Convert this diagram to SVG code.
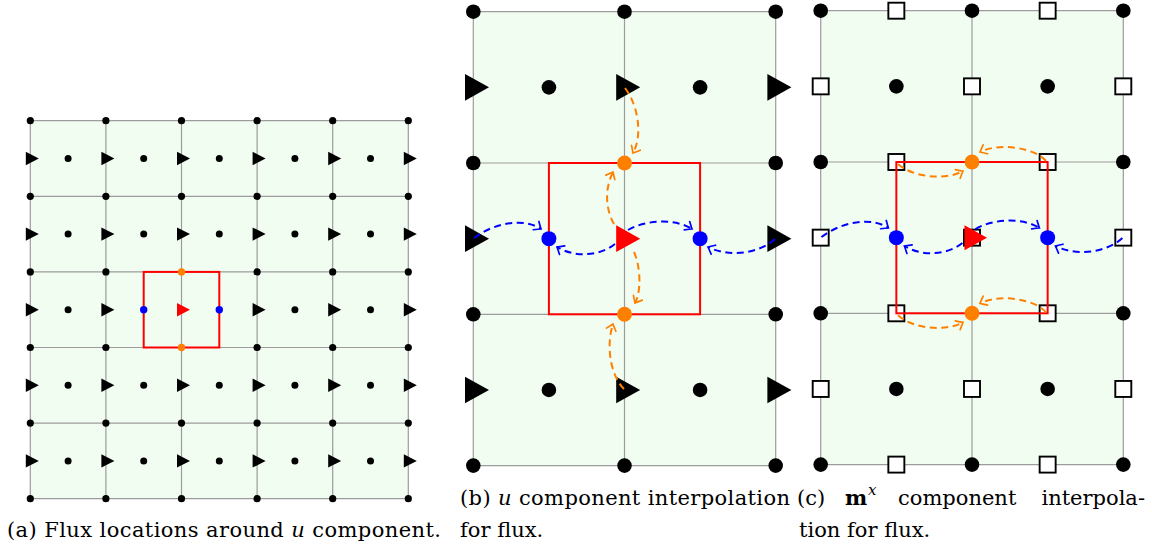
<svg xmlns="http://www.w3.org/2000/svg" xmlns:xlink="http://www.w3.org/1999/xlink" width="1152" height="548" viewBox="0 0 1152 548">
<style>
.bg{fill:#f2fdf2;stroke:none}
.grid{stroke:#9c9c9c;stroke-width:1.2;fill:none}
.blk{fill:#000}
.red{fill:#ff0000}
.blue{fill:#0000ff}
.orange{fill:#ff8000}
.box{fill:none;stroke:#ff0000;stroke-width:2}
.sq{fill:#fff;stroke:#000;stroke-width:1.9}
.db{fill:none;stroke:#0000ff;stroke-width:2;stroke-dasharray:7 4.5}
.do{fill:none;stroke:#ff8000;stroke-width:2;stroke-dasharray:7 4.5}
.cap{font-family:"DejaVu Serif","Liberation Serif",serif;font-size:21px;fill:#000}
</style>
<defs>
<path id="triA" d="M-4.5,-6.7 L8.5,0 L-4.5,6.7 Z"/>
<path id="triB" d="M-8.3,-13.3 L15.7,0 L-8.3,13.3 Z"/>
<rect id="sq" x="-8" y="-8" width="16" height="16"/>
<marker id="ab" markerUnits="userSpaceOnUse" markerWidth="14" markerHeight="14" refX="0" refY="0" viewBox="-8 -7 10 14" orient="auto" overflow="visible">
<path d="M-6,-5 Q-1.8,-1.4 0,0 Q-1.8,1.4 -6,5" fill="none" stroke="#0000ff" stroke-width="1.7" stroke-linecap="round"/>
</marker>
<marker id="ao" markerUnits="userSpaceOnUse" markerWidth="14" markerHeight="14" refX="0" refY="0" viewBox="-8 -7 10 14" orient="auto" overflow="visible">
<path d="M-6,-5 Q-1.8,-1.4 0,0 Q-1.8,1.4 -6,5" fill="none" stroke="#ff8000" stroke-width="1.7" stroke-linecap="round"/>
</marker>
</defs>

<!-- Panel (a) -->
<g id="panel-a">
<rect class="bg" x="30.3" y="120.7" width="378" height="378"/>
<g class="grid" id="grid-a">
<path d="M30.3,120.7H408.3M30.3,196.3H408.3M30.3,271.9H408.3M30.3,347.5H408.3M30.3,423.1H408.3M30.3,498.7H408.3"/>
<path d="M30.3,120.7V498.7M105.9,120.7V498.7M181.5,120.7V498.7M257.1,120.7V498.7M332.7,120.7V498.7M408.3,120.7V498.7"/>
</g>
<g id="a-vertices" class="blk">
<circle cx="30.3" cy="120.7" r="3.6"/><circle cx="105.9" cy="120.7" r="3.6"/><circle cx="181.5" cy="120.7" r="3.6"/><circle cx="257.1" cy="120.7" r="3.6"/><circle cx="332.7" cy="120.7" r="3.6"/><circle cx="408.3" cy="120.7" r="3.6"/>
<circle cx="30.3" cy="196.3" r="3.6"/><circle cx="105.9" cy="196.3" r="3.6"/><circle cx="181.5" cy="196.3" r="3.6"/><circle cx="257.1" cy="196.3" r="3.6"/><circle cx="332.7" cy="196.3" r="3.6"/><circle cx="408.3" cy="196.3" r="3.6"/>
<circle cx="30.3" cy="271.9" r="3.6"/><circle cx="105.9" cy="271.9" r="3.6"/><circle cx="257.1" cy="271.9" r="3.6"/><circle cx="332.7" cy="271.9" r="3.6"/><circle cx="408.3" cy="271.9" r="3.6"/>
<circle cx="30.3" cy="347.5" r="3.6"/><circle cx="105.9" cy="347.5" r="3.6"/><circle cx="257.1" cy="347.5" r="3.6"/><circle cx="332.7" cy="347.5" r="3.6"/><circle cx="408.3" cy="347.5" r="3.6"/>
<circle cx="30.3" cy="423.1" r="3.6"/><circle cx="105.9" cy="423.1" r="3.6"/><circle cx="181.5" cy="423.1" r="3.6"/><circle cx="257.1" cy="423.1" r="3.6"/><circle cx="332.7" cy="423.1" r="3.6"/><circle cx="408.3" cy="423.1" r="3.6"/>
<circle cx="30.3" cy="498.7" r="3.6"/><circle cx="105.9" cy="498.7" r="3.6"/><circle cx="181.5" cy="498.7" r="3.6"/><circle cx="257.1" cy="498.7" r="3.6"/><circle cx="332.7" cy="498.7" r="3.6"/><circle cx="408.3" cy="498.7" r="3.6"/>
</g>
<g id="a-centers" class="blk">
<circle cx="68.1" cy="158.5" r="3.5"/><circle cx="143.7" cy="158.5" r="3.5"/><circle cx="219.3" cy="158.5" r="3.5"/><circle cx="294.9" cy="158.5" r="3.5"/><circle cx="370.5" cy="158.5" r="3.5"/>
<circle cx="68.1" cy="234.1" r="3.5"/><circle cx="143.7" cy="234.1" r="3.5"/><circle cx="219.3" cy="234.1" r="3.5"/><circle cx="294.9" cy="234.1" r="3.5"/><circle cx="370.5" cy="234.1" r="3.5"/>
<circle cx="68.1" cy="309.7" r="3.5"/><circle cx="294.9" cy="309.7" r="3.5"/><circle cx="370.5" cy="309.7" r="3.5"/>
<circle cx="68.1" cy="385.3" r="3.5"/><circle cx="143.7" cy="385.3" r="3.5"/><circle cx="219.3" cy="385.3" r="3.5"/><circle cx="294.9" cy="385.3" r="3.5"/><circle cx="370.5" cy="385.3" r="3.5"/>
<circle cx="68.1" cy="460.9" r="3.5"/><circle cx="143.7" cy="460.9" r="3.5"/><circle cx="219.3" cy="460.9" r="3.5"/><circle cx="294.9" cy="460.9" r="3.5"/><circle cx="370.5" cy="460.9" r="3.5"/>
</g>
<g id="a-triangles" class="blk">
<use href="#triA" x="30.3" y="158.5"/><use href="#triA" x="105.9" y="158.5"/><use href="#triA" x="181.5" y="158.5"/><use href="#triA" x="257.1" y="158.5"/><use href="#triA" x="332.7" y="158.5"/><use href="#triA" x="408.3" y="158.5"/>
<use href="#triA" x="30.3" y="234.1"/><use href="#triA" x="105.9" y="234.1"/><use href="#triA" x="181.5" y="234.1"/><use href="#triA" x="257.1" y="234.1"/><use href="#triA" x="332.7" y="234.1"/><use href="#triA" x="408.3" y="234.1"/>
<use href="#triA" x="30.3" y="309.7"/><use href="#triA" x="105.9" y="309.7"/><use href="#triA" x="257.1" y="309.7"/><use href="#triA" x="332.7" y="309.7"/><use href="#triA" x="408.3" y="309.7"/>
<use href="#triA" x="30.3" y="385.3"/><use href="#triA" x="105.9" y="385.3"/><use href="#triA" x="181.5" y="385.3"/><use href="#triA" x="257.1" y="385.3"/><use href="#triA" x="332.7" y="385.3"/><use href="#triA" x="408.3" y="385.3"/>
<use href="#triA" x="30.3" y="460.9"/><use href="#triA" x="105.9" y="460.9"/><use href="#triA" x="181.5" y="460.9"/><use href="#triA" x="257.1" y="460.9"/><use href="#triA" x="332.7" y="460.9"/><use href="#triA" x="408.3" y="460.9"/>
</g>
<rect id="a-box" class="box" x="143.7" y="271.9" width="75.6" height="75.6"/>
<g id="a-u"><use href="#triA" x="181.5" y="309.7" class="red"/></g>
<g id="a-flux-left"><circle class="blue" cx="143.7" cy="309.7" r="3.7"/></g>
<g id="a-flux-right"><circle class="blue" cx="219.3" cy="309.7" r="3.7"/></g>
<g id="a-flux-top"><circle class="orange" cx="181.5" cy="271.9" r="3.7"/></g>
<g id="a-flux-bottom"><circle class="orange" cx="181.5" cy="347.5" r="3.7"/></g>
</g>

<!-- Panel (b) -->
<g id="panel-b">
<rect class="bg" x="473.3" y="11.7" width="302.4" height="453.9"/>
<g class="grid" id="grid-b">
<path d="M473.3,11.7H775.7M473.3,163H775.7M473.3,314.3H775.7M473.3,465.6H775.7"/>
<path d="M473.3,11.7V465.6M624.5,11.7V465.6M775.7,11.7V465.6"/>
</g>
<g id="b-vertices" class="blk">
<circle cx="473.3" cy="11.7" r="7.3"/><circle cx="624.5" cy="11.7" r="7.3"/><circle cx="775.7" cy="11.7" r="7.3"/>
<circle cx="473.3" cy="163" r="7.3"/><circle cx="775.7" cy="163" r="7.3"/>
<circle cx="473.3" cy="314.3" r="7.3"/><circle cx="775.7" cy="314.3" r="7.3"/>
<circle cx="473.3" cy="465.6" r="7.3"/><circle cx="624.5" cy="465.6" r="7.3"/><circle cx="775.7" cy="465.6" r="7.3"/>
</g>
<g id="b-centers" class="blk">
<circle cx="548.9" cy="87.35" r="7.3"/><circle cx="700.1" cy="87.35" r="7.3"/>
<circle cx="548.9" cy="389.95" r="7.3"/><circle cx="700.1" cy="389.95" r="7.3"/>
</g>
<g id="b-triangles" class="blk">
<use href="#triB" x="473.3" y="87.35"/><use href="#triB" x="624.5" y="87.35"/><use href="#triB" x="775.7" y="87.35"/>
<use href="#triB" x="473.3" y="238.65"/><use href="#triB" x="775.7" y="238.65"/>
<use href="#triB" x="473.3" y="389.95"/><use href="#triB" x="624.5" y="389.95"/><use href="#triB" x="775.7" y="389.95"/>
</g>
<rect id="b-box" class="box" x="548.9" y="163" width="151.2" height="151.3"/>
</g>

<!-- Panel (c) -->
<g id="panel-c">
<rect class="bg" x="820.7" y="10.7" width="302.6" height="453.9"/>
<g class="grid" id="grid-c">
<path d="M820.7,10.7H1123.3M820.7,162H1123.3M820.7,313.3H1123.3M820.7,464.6H1123.3"/>
<path d="M820.7,10.7V464.6M972,10.7V464.6M1123.3,10.7V464.6"/>
</g>
<g id="c-vertices" class="blk">
<circle cx="820.7" cy="10.7" r="7.3"/><circle cx="972" cy="10.7" r="7.3"/><circle cx="1123.3" cy="10.7" r="7.3"/>
<circle cx="820.7" cy="162" r="7.3"/><circle cx="1123.3" cy="162" r="7.3"/>
<circle cx="820.7" cy="313.3" r="7.3"/><circle cx="1123.3" cy="313.3" r="7.3"/>
<circle cx="820.7" cy="464.6" r="7.3"/><circle cx="972" cy="464.6" r="7.3"/><circle cx="1123.3" cy="464.6" r="7.3"/>
</g>
<g id="c-centers" class="blk">
<circle cx="896.35" cy="86.35" r="7.3"/><circle cx="1047.65" cy="86.35" r="7.3"/>
<circle cx="896.35" cy="388.95" r="7.3"/><circle cx="1047.65" cy="388.95" r="7.3"/>
</g>
<g id="c-squares" class="sq">
<use href="#sq" x="896.35" y="10.7"/><use href="#sq" x="1047.65" y="10.7"/>
<use href="#sq" x="896.35" y="162"/><use href="#sq" x="1047.65" y="162"/>
<use href="#sq" x="896.35" y="313.3"/><use href="#sq" x="1047.65" y="313.3"/>
<use href="#sq" x="896.35" y="464.6"/><use href="#sq" x="1047.65" y="464.6"/>
<use href="#sq" x="820.7" y="86.35"/><use href="#sq" x="972" y="86.35"/><use href="#sq" x="1123.3" y="86.35"/>
<use href="#sq" x="820.7" y="237.65"/><use href="#sq" x="972" y="237.65"/><use href="#sq" x="1123.3" y="237.65"/>
<use href="#sq" x="820.7" y="388.95"/><use href="#sq" x="972" y="388.95"/><use href="#sq" x="1123.3" y="388.95"/>
</g>
<rect id="c-box" class="box" x="896.35" y="162" width="151.3" height="151.3"/>
</g>

<!-- Connectors -->
<g id="connectors">
<path class="db" marker-end="url(#ab)" d="M474,238 C495,222 525,218 541,229"/>
<path class="db" marker-end="url(#ab)" d="M615,244 C600,256 575,258 557,247"/>
<path class="db" marker-end="url(#ab)" d="M628,230 C645,220 675,218 692,229"/>
<path class="db" marker-end="url(#ab)" d="M775,239 C760,253 730,258 708,247"/>
<path class="do" marker-end="url(#ao)" d="M625,88 C638,105 643,135 633,153"/>
<path class="do" marker-end="url(#ao)" d="M614,224 C606,210 604,190 613,172"/>
<path class="do" marker-end="url(#ao)" d="M634,252 C640,265 642,290 635,303"/>
<path class="do" marker-end="url(#ao)" d="M624,389 C610,375 606,345 613,324"/>

<path class="db" marker-end="url(#ab)" d="M821.4,237 C842.4,221 872.4,217 888.4,228"/>
<path class="db" marker-end="url(#ab)" d="M962.4,243 C947.4,255 922.4,257 904.4,246"/>
<path class="db" marker-end="url(#ab)" d="M975.4,229 C992.4,219 1022.4,217 1039.4,228"/>
<path class="db" marker-end="url(#ab)" d="M1122.4,238 C1107.4,252 1077.4,257 1055.4,246"/>
<path class="do" marker-end="url(#ao)" d="M898,164 C912,177 945,181 963,171"/>
<path class="do" marker-end="url(#ao)" d="M1046,161 C1035,148 1000,142 980,152"/>
<path class="do" marker-end="url(#ao)" d="M898,315.3 C912,328.3 945,332.3 963,322.3"/>
<path class="do" marker-end="url(#ao)" d="M1046,312.3 C1035,299.3 1000,293.3 980,303.3"/>
</g>

<!-- Highlighted nodes (b) -->
<g id="b-u"><use href="#triB" x="624.5" y="238.65" class="red"/></g>
<g id="b-flux-left"><circle class="blue" cx="548.9" cy="238.65" r="7.5"/></g>
<g id="b-flux-right"><circle class="blue" cx="700.1" cy="238.65" r="7.5"/></g>
<g id="b-flux-top"><circle class="orange" cx="624.5" cy="163" r="7.5"/></g>
<g id="b-flux-bottom"><circle class="orange" cx="624.5" cy="314.3" r="7.5"/></g>

<!-- Highlighted nodes (c) -->
<g id="c-u"><path class="red" d="M964.5,225.15 L987,237.65 L964.5,250.15 Z"/></g>
<g id="c-flux-left"><circle class="blue" cx="896.35" cy="237.65" r="7.5"/></g>
<g id="c-flux-right"><circle class="blue" cx="1047.65" cy="237.65" r="7.5"/></g>
<g id="c-flux-top"><circle class="orange" cx="972" cy="162" r="7.5"/></g>
<g id="c-flux-bottom"><circle class="orange" cx="972" cy="313.3" r="7.5"/></g>

<!-- Captions -->
<g id="captions" class="cap">
<text x="7" y="537" textLength="434" lengthAdjust="spacing">(a) Flux locations around <tspan font-style="italic">u</tspan> component.</text>
<text x="460" y="505" textLength="330" lengthAdjust="spacing">(b) <tspan font-style="italic">u</tspan> component interpolation</text>
<text x="460" y="537">for flux.</text>
<text x="797" y="505">(c)</text>
<text x="845" y="505" font-weight="bold">m</text>
<text x="868" y="495" font-style="italic" font-size="15">x</text>
<text x="898" y="505">component</text>
<text x="1145" y="505" text-anchor="end">interpola-</text>
<text x="799" y="537">tion for flux.</text>
</g>
</svg>
